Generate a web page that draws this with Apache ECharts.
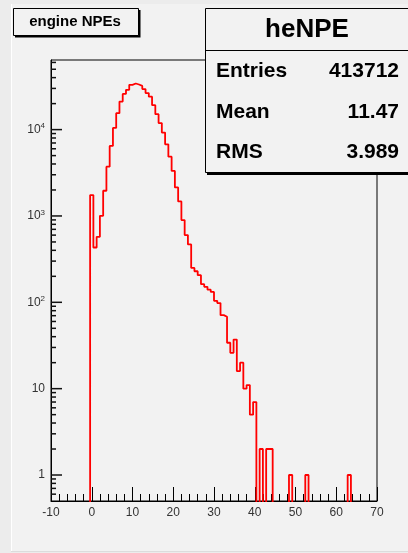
<!DOCTYPE html>
<html>
<head>
<meta charset="utf-8">
<script src="https://cdn.jsdelivr.net/npm/echarts@6/dist/echarts.min.js"></script>
<style>
  html, body { margin: 0; padding: 0; background: #ececec; }
  #main { width: 408px; height: 553px; }
</style>
</head>
<body>
<div id="main"></div>
<script>
// histogram binning (100 bins from -10 to 70)
var binLow = -10;
var binHigh = 70;
var binWidth = 0.8;

// bin contents (log scale)
var counts = [
  0, 0, 0, 0, 0, 0, 0, 0, 0, 0, 0, 0,
  1746, 431, 573, 1004, 1959, 3720, 6470, 10470, 15500, 21100,
  25900, 28900, 33000, 34200, 33300, 32100, 29500, 26500, 24100, 19200,
  15100, 11900, 9230, 6760, 4860, 3320, 2140, 1475, 895, 600,
  468, 250, 229, 206, 162, 151, 140, 132, 104, 98,
  71, 68, 34, 26, 37, 16, 20, 10, 11, 5, 7,
  0, 2, 0, 2, 2, 0, 0, 0, 0, 0, 1, 0, 0, 0, 0, 1,
  0, 0, 0, 0, 0, 0, 0, 0, 0, 0, 0, 0, 1,
  0, 0, 0, 0, 0, 0, 0, 0
];

// axis ranges and ticks
var xTicks = [-10, 0, 10, 20, 30, 40, 50, 60, 70];
var yDecades = [1, 10, 100, 1000, 10000];
var yMin = 0.5;
var yMax = 64000;

// labels
var histTitle = 'engine NPEs';
var statName = 'heNPE';
var statLabels = ['Entries', 'Mean', 'RMS'];
var statValues = ['413712', '11.47', '3.989'];

var chart = echarts.init(document.getElementById('main'));

// step outline: left edge of each bin, empty bins dropped below the frame
var outline = [];
for (var i = 0; i < counts.length; i++) {
  outline.push([binLow + i * binWidth, counts[i] > 0 ? counts[i] : yMin / 4]);
}
outline.push([binHigh, counts[counts.length - 1] > 0 ? counts[counts.length - 1] : yMin / 4]);

// y ticks: decades long, 2..9 short
var yTickMarks = [];
yDecades.forEach(function (v) { yTickMarks.push([binLow, v, 11]); });
for (var d = -1; d <= 5; d++) {
  for (var m = 2; m <= 9; m++) {
    var v = m * Math.pow(10, d);
    if (v > yMin && v < yMax) yTickMarks.push([binLow, v, 5]);
  }
}

var font = '"Liberation Sans", Arial, Helvetica, sans-serif';
var bg = '#f2f2f2';

var option = {
  animation: false,
  backgroundColor: '#ececec',
  grid: {
    left: 51, right: 31, top: 60, bottom: 52,
    show: true, backgroundColor: bg, borderColor: '#000', borderWidth: 1
  },
  xAxis: {
    type: 'value',
    min: xTicks[0],
    max: xTicks[xTicks.length - 1],
    interval: 10,
    splitLine: { show: false },
    axisLine: { onZero: false, lineStyle: { color: '#000', width: 1 } },
    axisTick: { inside: true, length: 14, lineStyle: { color: '#000' } },
    minorTick: { show: true, splitNumber: 5, length: 7, lineStyle: { color: '#000' } },
    axisLabel: { color: '#333', fontSize: 12, fontFamily: font, margin: 6 }
  },
  yAxis: {
    type: 'log',
    logBase: 10,
    min: yMin,
    max: yMax,
    splitLine: { show: false },
    axisLine: { onZero: false, lineStyle: { color: '#000', width: 1 } },
    axisTick: { show: false },
    axisLabel: {
      color: '#333', fontSize: 12, fontFamily: font, margin: 6,
      formatter: function (val) {
        var lg = Math.log10(val);
        var p = Math.round(lg);
        if (Math.abs(lg - p) > 1e-6) return '';
        if (p === 0) return '1';
        if (p === 1) return '10';
        return '10{s|' + p + '}';
      },
      rich: {
        s: { fontSize: 8, fontFamily: font, color: '#333', verticalAlign: 'top', padding: [0, 0, 7, 0] }
      }
    }
  },
  series: [
    {
      type: 'line',
      step: 'end',
      data: outline,
      symbol: 'none',
      clip: true,
      lineStyle: { color: '#ff0000', width: 1.8 },
      z: 3
    },
    {
      type: 'custom',
      data: yTickMarks,
      clip: false,
      silent: true,
      z: 10,
      renderItem: function (params, api) {
        var p = api.coord([api.value(0), api.value(1)]);
        return {
          type: 'rect',
          shape: { x: p[0], y: p[1] - 0.75, width: api.value(2), height: 1.5 },
          style: { fill: '#111' }
        };
      }
    }
  ],
  graphic: [
    // pad
    { type: 'rect', z: -10, shape: { x: 11, y: 4, width: 397, height: 548 }, style: { fill: bg } },
    { type: 'line', z: -9, shape: { x1: 11.5, y1: 4, x2: 11.5, y2: 552 }, style: { stroke: '#ffffff', lineWidth: 1 } },
    { type: 'line', z: -9, shape: { x1: 11, y1: 551.5, x2: 408, y2: 551.5 }, style: { stroke: '#dcdcdc', lineWidth: 1 } },
    // title box
    { type: 'rect', z: 100, shape: { x: 15, y: 10, width: 125.5, height: 27.5 }, style: { fill: '#000' } },
    { type: 'rect', z: 101, shape: { x: 13.5, y: 8.5, width: 125, height: 27 }, style: { fill: bg, stroke: '#000', lineWidth: 1 } },
    {
      type: 'text', z: 102, x: 75, y: 22,
      style: { text: histTitle, font: 'bold 15px ' + font, fill: '#000', align: 'center', verticalAlign: 'middle' }
    },
    // stats box
    { type: 'rect', z: 100, shape: { x: 207, y: 10, width: 220, height: 165 }, style: { fill: '#000' } },
    { type: 'rect', z: 101, shape: { x: 205.5, y: 8.5, width: 220, height: 164 }, style: { fill: bg, stroke: '#000', lineWidth: 1 } },
    { type: 'line', z: 102, shape: { x1: 205.5, y1: 50.5, x2: 408, y2: 50.5 }, style: { stroke: '#000', lineWidth: 1 } },
    {
      type: 'text', z: 102, x: 307, y: 30,
      style: { text: statName, font: 'bold 26px ' + font, fill: '#000', align: 'center', verticalAlign: 'middle' }
    },
    {
      type: 'text', z: 102, x: 216, y: 71,
      style: { text: statLabels[0], font: 'bold 21px ' + font, fill: '#000', align: 'left', verticalAlign: 'middle' }
    },
    {
      type: 'text', z: 102, x: 216, y: 112,
      style: { text: statLabels[1], font: 'bold 21px ' + font, fill: '#000', align: 'left', verticalAlign: 'middle' }
    },
    {
      type: 'text', z: 102, x: 216, y: 152,
      style: { text: statLabels[2], font: 'bold 21px ' + font, fill: '#000', align: 'left', verticalAlign: 'middle' }
    },
    {
      type: 'text', z: 102, x: 399, y: 71,
      style: { text: statValues[0], font: 'bold 21px ' + font, fill: '#000', align: 'right', verticalAlign: 'middle' }
    },
    {
      type: 'text', z: 102, x: 399, y: 112,
      style: { text: statValues[1], font: 'bold 21px ' + font, fill: '#000', align: 'right', verticalAlign: 'middle' }
    },
    {
      type: 'text', z: 102, x: 399, y: 152,
      style: { text: statValues[2], font: 'bold 21px ' + font, fill: '#000', align: 'right', verticalAlign: 'middle' }
    }
  ]
};

chart.setOption(option);
window.addEventListener('resize', function () {
  chart.resize();
});
</script>
</body>
</html>
